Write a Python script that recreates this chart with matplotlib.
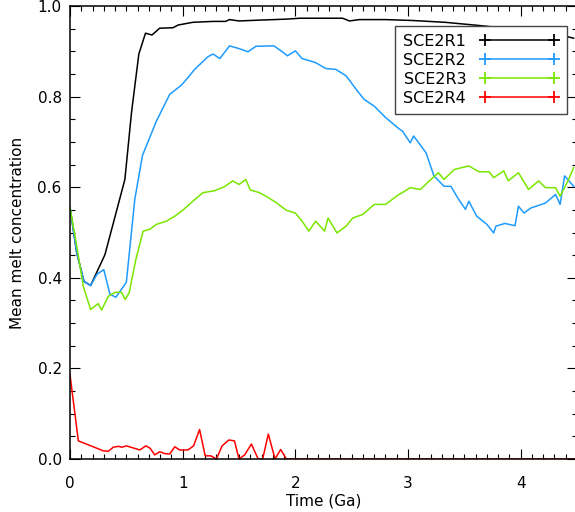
import matplotlib
matplotlib.use("Agg")
import matplotlib.pyplot as plt
from matplotlib.lines import Line2D
from matplotlib.ticker import MultipleLocator

# data (time in Ga, mean melt concentration)
t_r1 = [0.0, 0.06, 0.124, 0.183, 0.31, 0.487, 0.546, 0.611, 0.67, 0.728, 0.796, 0.914,
        0.96, 1.09, 1.27, 1.38, 1.416, 1.5, 1.7, 1.92, 2.04, 2.42, 2.48, 2.57, 2.8,
        3.04, 3.33, 3.63, 3.78, 3.92, 4.1, 4.22, 4.31, 4.47]
v_r1 = [0.555, 0.455, 0.392, 0.383, 0.451, 0.617, 0.765, 0.894, 0.94, 0.936, 0.951, 0.952,
        0.958, 0.964, 0.966, 0.966, 0.970, 0.967, 0.969, 0.971, 0.973, 0.973, 0.967, 0.970, 0.970,
        0.968, 0.964, 0.957, 0.953, 0.945, 0.945, 0.938, 0.938, 0.929]

t_r2 = [0.0, 0.06, 0.124, 0.183, 0.24, 0.3, 0.354, 0.407, 0.5, 0.575, 0.643, 0.767,
        0.885, 0.988, 1.047, 1.106, 1.224, 1.27, 1.33, 1.416, 1.5, 1.58, 1.65, 1.81,
        1.89, 1.93, 2.0, 2.06, 2.18, 2.27, 2.36, 2.45, 2.54, 2.61, 2.70, 2.80, 2.92,
        2.95, 3.02, 3.05, 3.16, 3.23, 3.32, 3.38, 3.45, 3.51, 3.54, 3.61, 3.70, 3.76,
        3.78, 3.86, 3.95, 3.98, 4.03, 4.09, 4.22, 4.31, 4.35, 4.39, 4.47]
v_r2 = [0.555, 0.455, 0.392, 0.383, 0.408, 0.418, 0.364, 0.357, 0.39, 0.573, 0.67, 0.746,
        0.805, 0.825, 0.842, 0.86, 0.888, 0.894, 0.884, 0.912, 0.906, 0.899, 0.911, 0.912,
        0.898, 0.89, 0.901, 0.884, 0.875, 0.862, 0.86, 0.846, 0.816, 0.794, 0.779, 0.754, 0.729,
        0.724, 0.698, 0.713, 0.676, 0.625, 0.602, 0.602, 0.573, 0.551, 0.569, 0.536, 0.518, 0.499,
        0.514, 0.52, 0.515, 0.558, 0.543, 0.554, 0.565, 0.584, 0.562, 0.625, 0.602]

t_r3 = [0.0, 0.06, 0.118, 0.183, 0.25, 0.28, 0.34, 0.40, 0.457, 0.49, 0.525, 0.584,
        0.649, 0.708, 0.767, 0.855, 0.93, 1.0, 1.09, 1.18, 1.28, 1.37, 1.445, 1.5,
        1.56, 1.60, 1.68, 1.74, 1.83, 1.92, 2.0, 2.06, 2.12, 2.18, 2.26, 2.29, 2.37,
        2.45, 2.51, 2.60, 2.70, 2.80, 2.92, 2.95, 3.02, 3.11, 3.19, 3.27, 3.32, 3.41,
        3.54, 3.63, 3.72, 3.76, 3.85, 3.89, 3.98, 4.07, 4.16, 4.22, 4.31, 4.35, 4.42, 4.47]
v_r3 = [0.555, 0.47, 0.381, 0.33, 0.343, 0.329, 0.359, 0.368, 0.368, 0.352, 0.367, 0.44,
        0.503, 0.507, 0.518, 0.525, 0.536, 0.549, 0.569, 0.588, 0.592, 0.601, 0.614, 0.606,
        0.617, 0.594, 0.588, 0.58, 0.566, 0.549, 0.543, 0.525, 0.503, 0.525, 0.503, 0.532, 0.499,
        0.514, 0.532, 0.54, 0.562, 0.562, 0.584, 0.588, 0.599, 0.595, 0.614, 0.632, 0.617, 0.639,
        0.647, 0.634, 0.634, 0.621, 0.636, 0.614, 0.632, 0.595, 0.614, 0.599, 0.599, 0.58, 0.614, 0.643]

t_r4 = [0.0, 0.074, 0.206, 0.295, 0.34, 0.384, 0.43, 0.46, 0.50, 0.62, 0.673, 0.71,
        0.752, 0.796, 0.84, 0.885, 0.93, 0.973, 1.047, 1.097, 1.15, 1.2, 1.25, 1.30,
        1.35, 1.41, 1.46, 1.5, 1.55, 1.61, 1.67, 1.71, 1.76, 1.82, 1.87, 1.92, 4.5]
v_r4 = [0.186, 0.04, 0.027, 0.018, 0.017, 0.026, 0.028, 0.026, 0.029, 0.02, 0.029, 0.024,
        0.009, 0.016, 0.012, 0.011, 0.027, 0.02, 0.02, 0.029, 0.065, 0.007, 0.007, 0.0,
        0.029, 0.042, 0.04, 0.0, 0.009, 0.033, 0.0, 0.0, 0.055, 0.0, 0.021, 0.0, 0.0]

labels = ["SCE2R1", "SCE2R2", "SCE2R3", "SCE2R4"]
colors = ["black", "#1e9bff", "#7ae600", "#ff0000"]

plt.rcParams['font.family'] = 'DejaVu Sans'

fig = plt.figure(figsize=(5.75, 5.12), dpi=100)
ax = fig.add_axes([70/575, 1-459/512, 507/575, 453/512])

series = [(t_r1, v_r1), (t_r2, v_r2), (t_r3, v_r3), (t_r4, v_r4)]
for (t, v), c in zip(series, colors):
    ax.plot(t, v, color=c, lw=1.1)

ax.set_xlim(0, 4.5)
ax.set_ylim(0, 1.0)
ax.xaxis.set_major_locator(MultipleLocator(1))
ax.xaxis.set_minor_locator(MultipleLocator(0.1))
ax.yaxis.set_major_locator(MultipleLocator(0.2))
ax.yaxis.set_minor_locator(MultipleLocator(0.05))
ax.set_yticklabels(["%.1f" % y for y in ax.get_yticks()])
ax.tick_params(which='both', direction='in', top=True, right=True, labelsize=11, width=0.8)
ax.tick_params(which='major', length=7.5)
ax.tick_params(which='minor', length=3.8)
ax.tick_params(axis='x', which='major', pad=12)
ax.tick_params(axis='y', which='major', pad=6)
for s in ax.spines.values():
    s.set_linewidth(1.1)

ax.set_xlabel("Time (Ga)", fontsize=11, labelpad=2)
ax.set_ylabel("Mean melt concentration", fontsize=11, labelpad=9)

handles = [Line2D([], [], color=c, lw=1.1, marker='+', markersize=9, markeredgewidth=1.3)
           for c in colors]
leg = ax.legend(handles, labels, loc='upper right', bbox_to_anchor=(0.980, 0.956),
                borderaxespad=0, numpoints=2, markerfirst=False, fontsize=11.5,
                handlelength=4.9, labelspacing=0.25, handletextpad=0.9,
                borderpad=0.5, fancybox=False, framealpha=1, edgecolor='#444444')
leg.get_frame().set_linewidth(1.0)

fig.savefig("out.png", dpi=100)
